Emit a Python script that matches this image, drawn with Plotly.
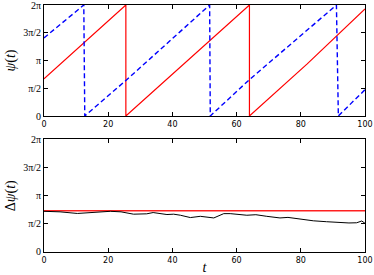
import math
import plotly.graph_objects as go

TWO_PI = 2 * math.pi

# top panel: phases psi(t) (sawtooth vertices)
red_t = [0, 12.4, 25.5, 25.5, 45, 64.0, 64.0, 82, 100]
red_psi = [2.10, 4.14, TWO_PI, 0.0, 3.20, TWO_PI, 0.0, 2.95, 6.06]
blue_t = [0, 12.4, 12.7, 25.5, 42.5, 51.6, 51.8, 64.0, 91.1, 91.7, 100]
blue_psi = [4.42, TWO_PI, 0.0, 2.01, 4.79, TWO_PI, 0.0, 2.06, TWO_PI, 0.0, 1.49]

# bottom panel: phase difference
dpsi_t = [0, 5, 10.4, 15.5, 20.7, 24, 27.9, 32, 34, 38.3, 40.4, 42.5, 45.6, 48.7,
          52.9, 56, 58, 63.2, 66, 69.4, 73.5, 76, 79.8, 83.9, 88, 91, 93.3, 95,
          97.4, 99, 100]
dpsi = [2.27, 2.24, 2.15, 2.19, 2.27, 2.24, 2.11, 2.13, 2.20, 2.09, 2.11, 2.05,
        1.92, 1.99, 1.90, 2.14, 2.14, 2.05, 2.08, 1.99, 1.90, 1.93, 1.82, 1.74,
        1.69, 1.66, 1.60, 1.62, 1.63, 1.73, 1.60]
ref_t = [0, 100]
ref_dpsi = [2.30, 2.30]

y_ticks = [0, math.pi / 2, math.pi, 3 * math.pi / 2, TWO_PI]
y_ticktext = ["0", "π/2", "π", "3π/2", "2π"]
x_ticks = [0, 20, 40, 60, 80, 100]

fig = go.Figure()
fig.add_trace(go.Scatter(x=red_t, y=red_psi, mode="lines",
                         line=dict(color="#ff0000", width=1.2), xaxis="x", yaxis="y"))
fig.add_trace(go.Scatter(x=blue_t, y=blue_psi, mode="lines",
                         line=dict(color="#0000ff", width=1.4, dash="5px,3px"),
                         xaxis="x", yaxis="y"))
fig.add_trace(go.Scatter(x=ref_t, y=ref_dpsi, mode="lines",
                         line=dict(color="#ff2020", width=1.6), xaxis="x2", yaxis="y2"))
fig.add_trace(go.Scatter(x=dpsi_t, y=dpsi, mode="lines",
                         line=dict(color="#000000", width=1), xaxis="x2", yaxis="y2"))

axis_common = dict(showline=True, linecolor="black", linewidth=1, mirror="allticks",
                   ticks="inside", ticklen=4, tickcolor="black", showgrid=False,
                   zeroline=False, automargin=False, ticklabeloverflow="allow")
xfont = dict(family="DejaVu Sans", size=8, color="black")
yfont = dict(family="Liberation Serif", size=10, color="black")
title_font = dict(family="Liberation Serif", size=14, color="black")

fig.update_layout(
    width=374, height=275,
    margin=dict(l=44, r=9, t=5, b=23),
    paper_bgcolor="white", plot_bgcolor="white",
    showlegend=False,
    xaxis=dict(domain=[0, 1], range=[0, 100], tickvals=x_ticks, tickfont=xfont,
               anchor="y", **axis_common),
    yaxis=dict(domain=[0.5506, 1], range=[0, TWO_PI], tickvals=y_ticks,
               ticktext=y_ticktext, tickfont=yfont, anchor="x",
               title=dict(text="<i>ψ</i>(<i>t</i>)", standoff=4, font=title_font),
               **axis_common),
    xaxis2=dict(domain=[0, 1], range=[0, 100], tickvals=x_ticks, tickfont=xfont,
                anchor="y2",
                title=dict(text="<i>t</i>", standoff=0, font=title_font),
                **axis_common),
    yaxis2=dict(domain=[0, 0.456], range=[0, TWO_PI], tickvals=y_ticks,
                ticktext=y_ticktext, tickfont=yfont, anchor="x2",
                title=dict(text="Δ<i>ψ</i>(<i>t</i>)", standoff=4, font=title_font),
                **axis_common),
)

fig.write_html("out.html", config={"displayModeBar": False},
               post_script="document.body.style.margin='0';")
